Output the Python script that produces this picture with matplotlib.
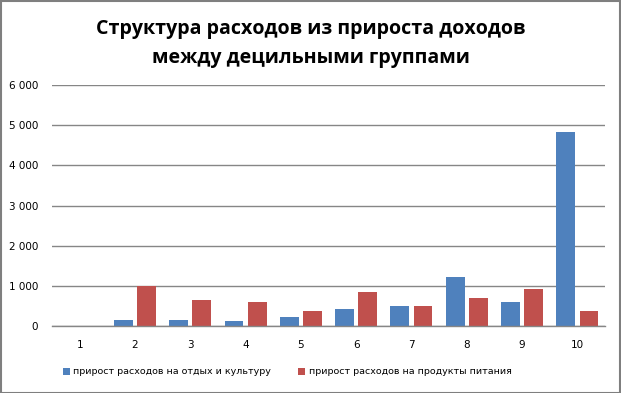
import matplotlib
matplotlib.use("Agg")
import matplotlib.pyplot as plt
import numpy as np
from matplotlib.patches import Rectangle

categories = ["1", "2", "3", "4", "5", "6", "7", "8", "9", "10"]
leisure = [0, 140, 140, 116, 215, 413, 488, 1231, 587, 4826]
food = [0, 1000, 636, 587, 364, 835, 488, 686, 909, 364]
yticks = [0, 1000, 2000, 3000, 4000, 5000, 6000]
ytick_labels = ["0", "1 000", "2 000", "3 000", "4 000", "5 000", "6 000"]
title = "Структура расходов из прироста доходов\nмежду децильными группами"
label_leisure = "прирост расходов на отдых и культуру"
label_food = "прирост расходов на продукты питания"

blue = "#4F81BD"
red = "#C0504D"
grid_c = "#868686"

fig = plt.figure(figsize=(6.21, 3.93), dpi=100)
ax = fig.add_axes([52/621, 67/393, 553/621, 241/393])

x = np.arange(len(categories))
w = 0.34
ax.bar(x - 0.21, leisure, width=w, color=blue, label=label_leisure, zorder=3)
ax.bar(x + 0.21, food, width=w, color=red, label=label_food, zorder=3)

ax.set_xlim(-0.5, len(categories) - 0.5)
ax.set_ylim(0, 6000)
ax.set_yticks(yticks)
ax.set_yticklabels(ytick_labels)
ax.set_xticks(x)
ax.set_xticklabels(categories)
ax.tick_params(axis="both", length=0, labelsize=7.5, colors="black")
ax.tick_params(axis="y", pad=10)
ax.tick_params(axis="x", pad=10)
ax.yaxis.grid(True, color=grid_c, linewidth=1.0, zorder=0)
for s in ["top", "right", "left"]:
    ax.spines[s].set_visible(False)
ax.spines["bottom"].set_color(grid_c)
ax.spines["bottom"].set_linewidth(1.0)
ax.spines["bottom"].set_zorder(4)

fig.text(311/621, 1 - 43.5/393, title, ha="center", va="center",
         fontsize=14.1, fontweight="bold", family="Open Sans", linespacing=1.6)

leg = fig.legend(loc="center left", bbox_to_anchor=(54/621, 1 - 372/393), ncol=2,
                 frameon=False, fontsize=6.8, handlelength=0.75, handleheight=0.75,
                 handletextpad=0.35, columnspacing=2.9)

fig.patches.append(Rectangle((0.5/621, 0.5/393), 619/621, 391.5/393, transform=fig.transFigure,
                             fill=False, edgecolor="#7F7F7F", linewidth=1.5))

fig.savefig("out.png", dpi=100)
